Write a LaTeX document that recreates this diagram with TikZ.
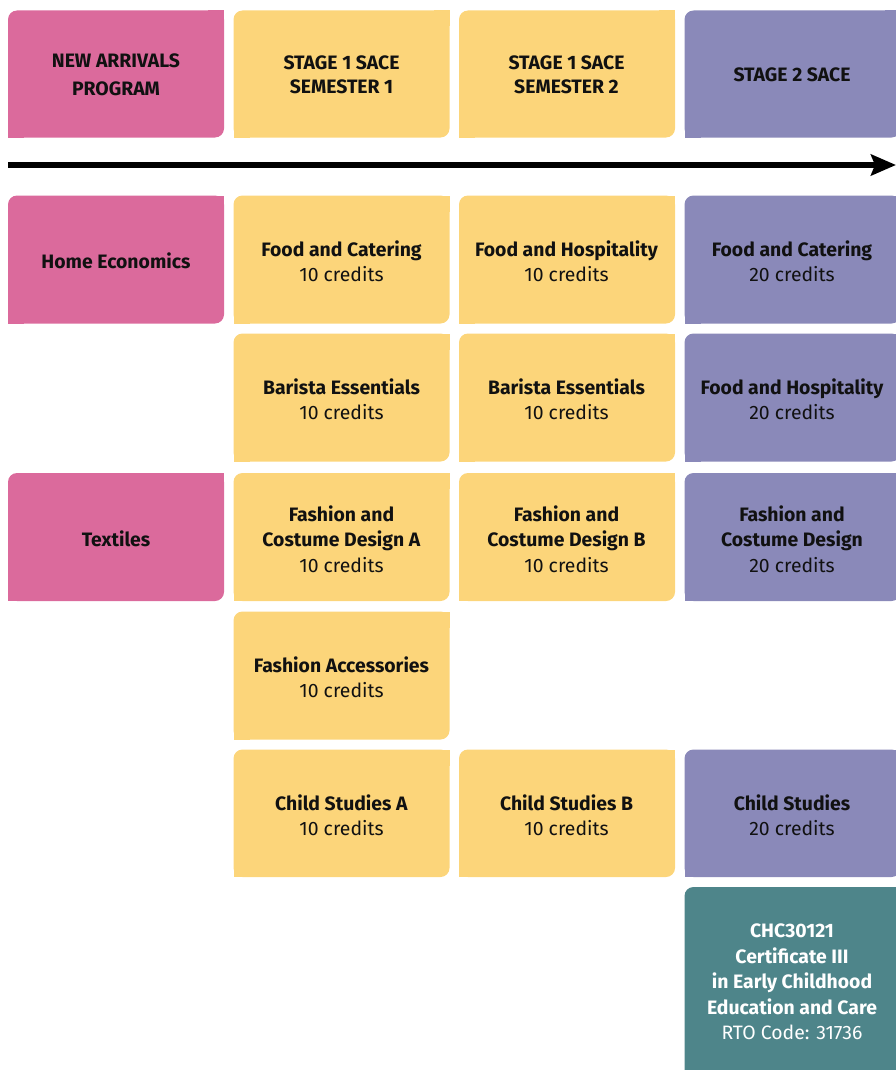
\documentclass[tikz,border=0pt]{standalone}
\usepackage{fontspec}
\setmainfont{Fira Sans}
\usetikzlibrary{arrows.meta}
\definecolor{cpink}{HTML}{DB6A9C}
\definecolor{cyellow}{HTML}{FCD57A}
\definecolor{cpurple}{HTML}{8A89B9}
\definecolor{cteal}{HTML}{4E858A}
\definecolor{ctext}{HTML}{111111}
\newcommand{\tilebg}[4]{% left, top, height, colour
  \fill[#4, rounded corners=9pt] (#1,#2) rectangle (#1+216,#2+#3);
  \fill[#4] (#1+200,#2) rectangle (#1+216,#2+16);
  \fill[#4] (#1,#2+#3-16) rectangle (#1+16,#2+#3);
}
\tikzset{
  lbl/.style={align=center, text=ctext, font=\fontsize{19.4}{25.5}\selectfont, inner sep=0pt},
  wlbl/.style={lbl, text=white},
}
\begin{document}
\begin{tikzpicture}[x=1pt,y=-1pt]
\useasboundingbox (0,0) rectangle (896,1070);
\clip (0,0) rectangle (896,1070);
% backgrounds
\tilebg{8}{10.5}{127}{cpink}
\tilebg{233.5}{10.5}{127}{cyellow}
\tilebg{459}{10.5}{127}{cyellow}
\tilebg{684.5}{10.5}{127}{cpurple}
\tilebg{8}{195.5}{128}{cpink}
\tilebg{233.5}{195.5}{128}{cyellow}
\tilebg{459}{195.5}{128}{cyellow}
\tilebg{684.5}{195.5}{128}{cpurple}
\tilebg{233.5}{333.5}{128}{cyellow}
\tilebg{459}{333.5}{128}{cyellow}
\tilebg{684.5}{333.5}{128}{cpurple}
\tilebg{8}{473}{128}{cpink}
\tilebg{233.5}{473}{128}{cyellow}
\tilebg{459}{473}{128}{cyellow}
\tilebg{684.5}{473}{128}{cpurple}
\tilebg{233.5}{611.5}{128}{cyellow}
\tilebg{233.5}{749.5}{127.5}{cyellow}
\tilebg{459}{749.5}{127.5}{cyellow}
\tilebg{684.5}{749.5}{127.5}{cpurple}
\tilebg{684.5}{887}{200}{cteal}
% timeline arrow
\coordinate (astart) at (8,165);
\coordinate (aend) at (896,165);
\draw[line width=5.5pt, -{Stealth[length=25pt,width=21pt,inset=4pt]}] (astart) -- (aend);
% headers
\node[lbl] (h1) at (116,75) {\textbf{NEW ARRIVALS}\\[2.5pt]\textbf{PROGRAM}};
\node[lbl] (h2) at (341.5,75) {\textbf{STAGE 1 SACE}\\[-1.5pt]\textbf{SEMESTER 1}};
\node[lbl] (h3) at (566.5,75) {\textbf{STAGE 1 SACE}\\[-1.5pt]\textbf{SEMESTER 2}};
\node[lbl] (h4) at (792,75) {\textbf{STAGE 2 SACE}};
% row 1
\node[lbl] (he) at (116,261) {\textbf{Home Economics}};
\node[lbl] (fc1) at (341.5,261) {\textbf{Food and Catering}\\10 credits};
\node[lbl] (fh1) at (566.5,261) {\textbf{Food and Hospitality}\\10 credits};
\node[lbl] (fc2) at (792,261) {\textbf{Food and Catering}\\20 credits};
% row 2
\node[lbl] (be1) at (341.5,399) {\textbf{Barista Essentials}\\10 credits};
\node[lbl] (be2) at (566.5,399) {\textbf{Barista Essentials}\\10 credits};
\node[lbl] (fh2) at (792,399) {\textbf{Food and Hospitality}\\20 credits};
% row 3
\node[lbl] (tx) at (116,539) {\textbf{Textiles}};
\node[lbl] (fa) at (341.5,539) {\textbf{Fashion and}\\\textbf{Costume Design A}\\10 credits};
\node[lbl] (fb) at (566.5,539) {\textbf{Fashion and}\\\textbf{Costume Design B}\\10 credits};
\node[lbl] (fd) at (792,539) {\textbf{Fashion and}\\\textbf{Costume Design}\\20 credits};
% row 4
\node[lbl] (acc) at (341.5,677) {\textbf{Fashion Accessories}\\10 credits};
% row 5
\node[lbl] (csa) at (341.5,815) {\textbf{Child Studies A}\\10 credits};
\node[lbl] (csb) at (566.5,815) {\textbf{Child Studies B}\\10 credits};
\node[lbl] (cs) at (792,815) {\textbf{Child Studies}\\20 credits};
% certificate
\node[wlbl] (cert) at (792,982) {\textbf{CHC30121}\\\textbf{Certificate III}\\\textbf{in Early Childhood}\\\textbf{Education and Care}\\RTO Code: 31736};
\end{tikzpicture}
\end{document}
